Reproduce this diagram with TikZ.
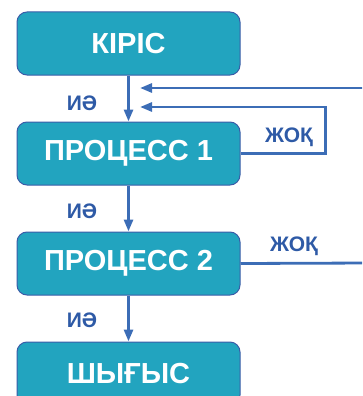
\documentclass[tikz,border=0pt]{standalone}
\usepackage{fontspec}
\setmainfont{Liberation Sans}
\usetikzlibrary{arrows.meta}
\definecolor{boxteal}{HTML}{22A4BF}
\definecolor{boxedge}{HTML}{3A5CA8}
\definecolor{lineblue}{HTML}{3C6DB6}
\definecolor{textblue}{HTML}{2E5AA6}

\begin{document}
\begin{tikzpicture}[x=1pt, y=-1pt,
	algo step/.style={draw=boxedge, line width=1pt, fill=boxteal, text=white,
	rounded corners=10pt, minimum height=63pt, minimum width=223pt, inner sep=0pt,
	font=\bfseries\fontsize{29}{31}\selectfont},
	flowline/.style={line width=2.8pt, draw=lineblue},
	arr/.style={flowline, -{Triangle[length=12pt, width=9pt]}},
	answer/.style={text=textblue, font=\bfseries\fontsize{21}{22}\selectfont}]
	\useasboundingbox (0,0) rectangle (362,396);
	\clip (0,0) rectangle (362,396);
	
	\node [algo step] (input) at (128.5,43.5) {КІРІС};
	\node [algo step] (proc1) at (128.5,153.5) {ПРОЦЕСС 1};
	\node [algo step] (proc2) at (128.5,263.5) {ПРОЦЕСС 2};
	\node [algo step] (output) at (128.5,373.5) {ШЫҒЫС};
	
	\coordinate (tip1) at (140,107);
	\coordinate (tip2) at (140,88);
	\coordinate (entry2) at (370,88);
	\coordinate (exit2) at (370,263);
	
	\draw [arr] (input) -- (proc1);
	\draw [arr] (proc1) -- (proc2);
	\draw [arr] (proc2) -- (output);
	\draw [arr] (proc1.east) -- ++(85,0) |- (tip1);
	\draw [flowline] (proc2.east) -- (exit2);
	\draw [arr] (entry2) -- (tip2);
	
	\node [answer] (yes1) at (82,103) {ИӘ};
	\node [answer] (yes2) at (82,211) {ИӘ};
	\node [answer] (yes3) at (82,320) {ИӘ};
	\node [answer] (no1) at (289,137) {ЖОҚ};
	\node [answer] (no2) at (294,246) {ЖОҚ};
\end{tikzpicture}
\end{document}
